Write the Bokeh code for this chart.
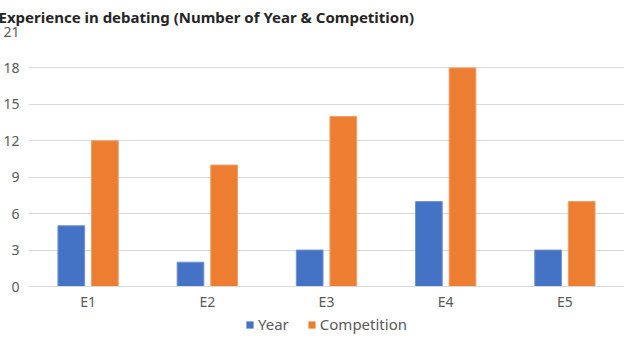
from bokeh.plotting import figure
from bokeh.layouts import column
from bokeh.models import ColumnDataSource, FactorRange, Range1d, Legend, LegendItem, FixedTicker
from bokeh.transform import dodge
from bokeh.embed import file_html
from bokeh.resources import INLINE

categories = ["E1", "E2", "E3", "E4", "E5"]
year = [5, 2, 3, 7, 3]
competition = [12, 10, 14, 18, 7]
y_ticks = [0, 3, 6, 9, 12, 15, 18, 21]
series_names = ["Year", "Competition"]
series_colors = ["#4472C4", "#ED7D31"]
series_edges = ["#6F93D6", "#F29E66"]

FONT = "Noto Sans"
GREY = "#595959"

src = ColumnDataSource(dict(cat=categories, year=year, competition=competition))

p = figure(x_range=FactorRange(factors=categories), y_range=Range1d(0, 21),
           width=624, height=313, output_backend="svg", toolbar_location=None,
           min_border_left=26, min_border_right=0, min_border_top=24, min_border_bottom=0,
           background_fill_color="white", border_fill_color="white", outline_line_color=None,
           title="Experience in debating (Number of Year & Competition)")

p.title.text_font = FONT
p.title.text_font_size = "15px"
p.title.text_font_style = "bold"
p.title.text_color = "#262626"
p.title.align = "left"
p.title.offset = -30
p.title.standoff = 9

p.vbar(x=dodge("cat", -0.141, range=p.x_range), top="year", width=0.224, source=src,
       fill_color=series_colors[0], line_color=series_edges[0], line_width=1)
p.vbar(x=dodge("cat", 0.141, range=p.x_range), top="competition", width=0.224, source=src,
       fill_color=series_colors[1], line_color=series_edges[1], line_width=1)

p.yaxis.ticker = FixedTicker(ticks=y_ticks)
p.yaxis.axis_line_color = None
p.yaxis.major_tick_line_color = None
p.yaxis.minor_tick_line_color = None
p.yaxis.major_tick_out = 0
p.yaxis.minor_tick_out = 0
p.yaxis.major_label_text_font = FONT
p.yaxis.major_label_text_font_size = "14px"
p.yaxis.major_label_text_color = GREY
p.yaxis.major_label_standoff = 9

p.xaxis.axis_line_color = "#D9D9D9"
p.xaxis.axis_line_width = 1
p.xaxis.major_tick_line_color = None
p.xaxis.minor_tick_line_color = None
p.xaxis.major_tick_out = 0
p.xaxis.minor_tick_out = 0
p.xaxis.major_label_text_font = FONT
p.xaxis.major_label_text_font_size = "14px"
p.xaxis.major_label_text_color = GREY
p.xaxis.major_label_standoff = 5

p.xgrid.grid_line_color = None
p.ygrid.grid_line_color = "#D9D9D9"
p.ygrid.grid_line_width = 1

# legend strip below the chart
lg = figure(width=624, height=22, output_backend="svg", toolbar_location=None,
            x_axis_type=None, y_axis_type=None, min_border=0,
            outline_line_color=None, background_fill_color="white", border_fill_color="white",
            x_range=Range1d(0, 1), y_range=Range1d(0, 1))
lg.xgrid.visible = False
lg.ygrid.visible = False
items = []
for name, col in zip(series_names, series_colors):
    # zero-area proxy bar: only its legend swatch is visible
    r = lg.vbar(x=[0.5], top=[0], bottom=0, width=0, fill_color=col, line_color=None)
    items.append(LegendItem(label=name, renderers=[r]))
legend = Legend(items=items, orientation="horizontal", location="center",
                border_line_color=None, background_fill_alpha=0,
                label_text_font=FONT, label_text_font_size="15px", label_text_color=GREY,
                label_height=15, glyph_width=9, glyph_height=9, spacing=18, label_standoff=4,
                padding=0, margin=0)
lg.add_layout(legend)

layout = column(p, lg, spacing=0)
open("out.html", "w").write(file_html(layout, INLINE))
